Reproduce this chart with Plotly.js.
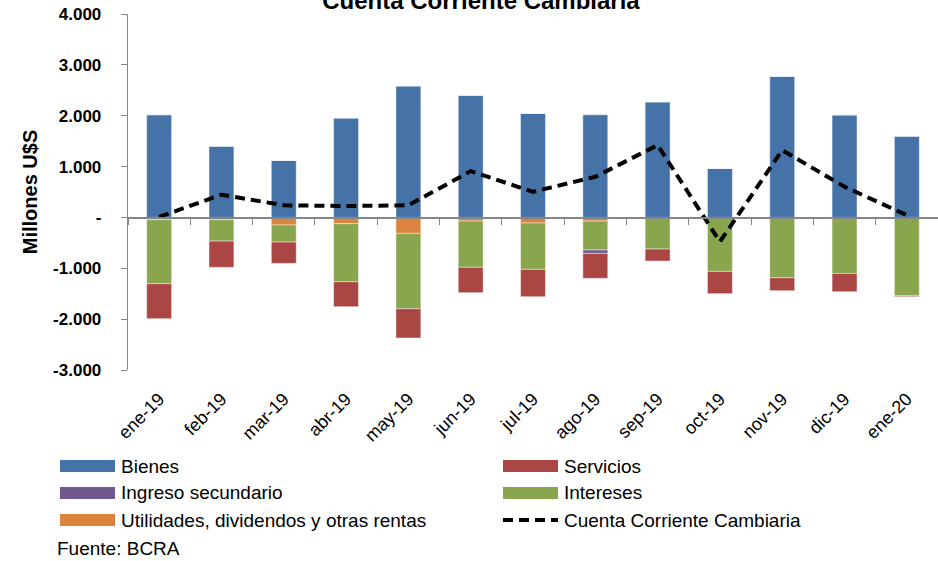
<!DOCTYPE html>
<html>
<head>
<meta charset="utf-8">
<script src="https://cdn.plot.ly/plotly-3.0.1.min.js"></script>
<style>html,body{margin:0;padding:0;background:#fff;}#chart{width:938px;height:561px;}</style>
</head>
<body>
<div id="chart"></div>
<script>
// ---- data ----
const categories = ['ene-19','feb-19','mar-19','abr-19','may-19','jun-19','jul-19','ago-19','sep-19','oct-19','nov-19','dic-19','ene-20'];
const bienes      = [2020, 1400, 1120, 1955, 2585, 2400, 2045, 2018, 2275,  965, 2778, 2018, 1600];
const servicios   = [-688, -516, -419, -492, -576, -499, -538, -491, -236, -439, -255, -360,  -19];
const ingresoSec  = [   0,    0,    0,    0,    0,    0,    0,  -66,    0,    0,    0,    0,    0];
const intereses   = [-1258, -420, -335, -1141, -1482, -910, -910, -569, -622, -1061, -1186, -1101, -1540];
const utilidades  = [ -45,  -45, -149, -123, -313,  -71, -111,  -72,    0,    0,    0,    0,    0];
const cuenta      = [  10,  447,  238,  224,  238,  911,  504,  799, 1422, -478, 1323,  602,   45];
const yTickVals   = [4000, 3000, 2000, 1000, 0, -1000, -2000, -3000];
const yTickText   = ['4.000','3.000','2.000','1.000','-','-1.000','-2.000','-3.000'];
const names = {
  bienes: 'Bienes', servicios: 'Servicios', ingreso: 'Ingreso secundario',
  intereses: 'Intereses', utilidades: 'Utilidades, dividendos y otras rentas',
  cuenta: 'Cuenta Corriente Cambiaria'
};
const titleText = 'Cuenta Corriente Cambiaria';
const sourceText = 'Fuente: BCRA';

// ---- styles ----
const colors = {
  bienes: '#4572A7', servicios: '#AA4643', ingreso: '#71588F',
  intereses: '#89A54E', utilidades: '#DB843D'
};
const FONT = 'Liberation Sans, Arial, sans-serif';
const ML = 128, MR = 0, MT = 14, MB = 191, W = 938, H = 561;
const PW = W - ML - MR, PH = H - MT - MB;
const px2x = x => (x - ML) / PW;
const px2y = y => (MT + PH - y) / PH;
const yMin = -3000, yMax = 4000;

function bar(y, key) {
  return {
    type: 'bar', x: categories, y: y, name: names[key], showlegend: false,
    marker: { color: colors[key], line: { color: 'rgba(255,255,255,0.45)', width: 1 } },
    hoverinfo: 'x+y+name'
  };
}

const traces = [
  bar(bienes, 'bienes'),
  bar(utilidades, 'utilidades'),
  bar(intereses, 'intereses'),
  bar(ingresoSec, 'ingreso'),
  bar(servicios, 'servicios'),
  {
    type: 'scatter', mode: 'lines', x: categories, y: cuenta, name: names.cuenta,
    xaxis: 'x2', showlegend: false,
    line: { color: '#000', width: 4, dash: '10px,6px' }
  }
];

// ---- custom legend (wide swatches) ----
const legendItems = [
  { key: 'bienes',     col: 0, row: 0 },
  { key: 'servicios',  col: 1, row: 0 },
  { key: 'ingreso',    col: 0, row: 1 },
  { key: 'intereses',  col: 1, row: 1 },
  { key: 'utilidades', col: 0, row: 2 },
  { key: 'cuenta',     col: 1, row: 2 }
];
const colX = [60, 503], rowY = [466, 493, 520];
const swW = 55, swH = 12, txtGap = 4;
const LEGFONT = 19;
const shapes = [], annotations = [];
legendItems.forEach(it => {
  const x0 = colX[it.col], yc = rowY[it.row];
  if (it.key === 'cuenta') {
    shapes.push({ type: 'line', xref: 'paper', yref: 'paper',
      x0: px2x(x0), x1: px2x(x0 + swW), y0: px2y(yc), y1: px2y(yc),
      line: { color: '#000', width: 4, dash: '10px,6px' } });
  } else {
    shapes.push({ type: 'rect', xref: 'paper', yref: 'paper',
      x0: px2x(x0), x1: px2x(x0 + swW), y0: px2y(yc - swH / 2), y1: px2y(yc + swH / 2),
      fillcolor: colors[it.key], line: { width: 0 } });
  }
  annotations.push({ xref: 'paper', yref: 'paper', x: px2x(x0 + swW + txtGap), y: px2y(yc),
    xanchor: 'left', yanchor: 'middle', showarrow: false, text: names[it.key],
    font: { family: FONT, size: LEGFONT, color: '#000' } });
});
annotations.push({ xref: 'paper', yref: 'paper', x: px2x(55), y: px2y(548),
  xanchor: 'left', yanchor: 'middle', showarrow: false, text: sourceText,
  font: { family: FONT, size: LEGFONT, color: '#000' } });

const layout = {
  width: W, height: H,
  margin: { l: ML, r: MR, t: MT, b: MB, pad: 0 },
  paper_bgcolor: '#fff', plot_bgcolor: '#fff',
  font: { family: FONT, color: '#000' },
  title: {
    text: titleText, x: 481 / W, xanchor: 'center', xref: 'container',
    y: 1 - 9 / H, yanchor: 'bottom', yref: 'container',
    font: { family: FONT, size: 24, weight: 'bold', color: '#000' }
  },
  barmode: 'relative', bargap: 0.6,
  showlegend: false,
  xaxis: {
    type: 'category', categoryorder: 'array', categoryarray: categories,
    showline: false, ticks: '', showgrid: false, zeroline: false,
    tickangle: -45, tickfont: { family: FONT, size: 18, color: '#000' },
    ticklabelstandoff: 14
  },
  xaxis2: {
    type: 'category', categoryorder: 'array', categoryarray: categories,
    overlaying: 'x', matches: 'x', anchor: 'free',
    position: (0 - yMin) / (yMax - yMin),
    showline: true, linecolor: '#868686', linewidth: 1.3,
    ticks: 'outside', tickson: 'boundaries', ticklen: 6, tickcolor: '#868686', tickwidth: 1,
    showticklabels: false, showgrid: false, zeroline: false
  },
  yaxis: {
    range: [yMin, yMax], tickvals: yTickVals, ticktext: yTickText,
    showline: true, linecolor: '#868686', linewidth: 1.3,
    ticks: 'outside', ticklen: 6, tickcolor: '#868686',
    showgrid: false, zeroline: false,
    tickfont: { family: FONT, size: 17, weight: 'bold', color: '#000' },
    ticklabelstandoff: 16,
    title: { text: 'Millones U$S', font: { family: FONT, size: 20, weight: 'bold', color: '#000' }, standoff: 10 }
  },
  shapes: shapes,
  annotations: annotations
};

Plotly.newPlot('chart', traces, layout, { displayModeBar: false, staticPlot: true });
</script>
</body>
</html>
